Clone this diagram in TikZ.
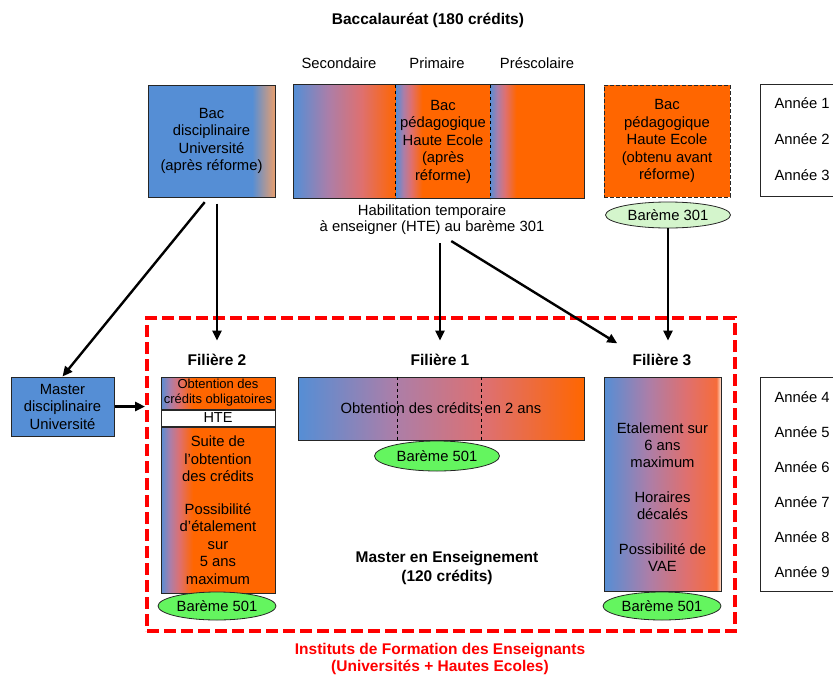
\documentclass[tikz,border=0pt]{standalone}
\usepackage{fontspec}
\setmainfont{Liberation Sans}
\usepackage{tikz}
\usetikzlibrary{arrows.meta,positioning,shapes.geometric}
\definecolor{bleu}{RGB}{85,142,213}
\definecolor{orangevif}{RGB}{255,102,0}
\definecolor{mauve}{RGB}{172,126,168}
\definecolor{rose}{RGB}{222,112,112}
\definecolor{rouille}{RGB}{246,108,58}
\definecolor{peche}{RGB}{232,158,110}
\definecolor{blanchi}{RGB}{255,230,212}
\definecolor{vertpale}{RGB}{212,245,204}
\definecolor{vertvif}{RGB}{100,245,95}
\pgfdeclarehorizontalshading{degrade}{100bp}{color(0bp)=(bleu); color(25bp)=(bleu); color(42bp)=(mauve); color(58bp)=(rose); color(75bp)=(orangevif); color(100bp)=(orangevif)}
\pgfdeclarehorizontalshading{degradecourt}{100bp}{color(0bp)=(bleu); color(25bp)=(bleu); color(29bp)=(mauve); color(33bp)=(rose); color(39bp)=(orangevif); color(100bp)=(orangevif)}
\pgfdeclarehorizontalshading{degradebleu}{100bp}{color(0bp)=(bleu); color(66bp)=(bleu); color(75bp)=(peche); color(100bp)=(peche)}
\pgfdeclarehorizontalshading{degradefin}{100bp}{color(0bp)=(bleu); color(25bp)=(bleu); color(44bp)=(mauve); color(60bp)=(rose); color(73bp)=(rouille); color(75bp)=(blanchi); color(100bp)=(blanchi)}

\begin{document}
\begin{tikzpicture}[x=1pt,y=-1pt,
      every node/.style={font=\fontsize{14.8}{17.5}\selectfont},
      titre/.style={font=\fontsize{15.5}{19}\selectfont\bfseries},
      boite/.style={draw=black!85,line width=1pt,inner sep=0pt,align=center},
      degr/.style={boite,shade,shading=#1},
      bareme/.style={ellipse,draw=black!85,line width=0.8pt,inner sep=0pt,minimum width=118,minimum height=28},
      fleche/.style={-{Triangle[length=10pt,width=9pt]},line width=2.4pt},
      cadre/.style={draw=red,line width=4pt,dash pattern=on 12pt off 5pt,minimum width=588,minimum height=313}
]
\useasboundingbox (0,0) rectangle (833,675);
\node[cadre] (ifr) at (441,474.5) {};

\node[titre] (bacc) at (428,20) {Baccalauréat (180 crédits)};
\node (sec) at (339,63) {Secondaire};
\node (prim) at (437,63) {Primaire};
\node (presc) at (537,63) {Préscolaire};

\node[degr=degradebleu,minimum width=127,minimum height=112] (bacdisc) at (211.5,141) {Bac\\disciplinaire\\Université\\(après réforme)};
\node[degr=degrade,draw=none,minimum width=102,minimum height=113] (seg1) at (345,141.5) {};
\node[degr=degradecourt,draw=none,minimum width=94,minimum height=113] (seg2) at (443,141.5) {Bac\\pédagogique\\Haute Ecole\\(après\\réforme)};
\node[degr=degradecourt,draw=none,minimum width=94,minimum height=113] (seg3) at (537,141.5) {};
\draw[line width=1pt,black!85] (seg1.north west) rectangle (seg3.south east);
\draw[line width=1.2pt,dashed] (seg2.north west) -- (seg2.south west) (seg2.north east) -- (seg2.south east);
\node[align=center,font=\fontsize{14.8}{16}\selectfont] (hte) at (432,220) {Habilitation temporaire\\à enseigner (HTE) au barème 301};

\node[boite,fill=orangevif,dash pattern=on 4pt off 2pt,minimum width=126,minimum height=112] (bacav) at (667,141) {Bac\\pédagogique\\Haute Ecole\\(obtenu avant\\réforme)};
\node[bareme,fill=vertpale,minimum width=125,minimum height=26] (b301) at (668,215) {Barème 301};

\node[boite,minimum width=85,minimum height=112] (an13) at (802.5,140) {};
\foreach \n/\y in {1/103,2/139,3/175}
      \node[anchor=west] (an\n) at (771,\y) {Année \n};
\node[boite,minimum width=85,minimum height=214] (an49) at (802.5,484) {};
\foreach \n/\y in {4/397,5/432,6/467,7/502,8/537,9/572}
      \node[anchor=west] (an\n) at (771,\y) {Année \n};

\node[titre] (fil2) at (217,360) {Filière 2};
\node[titre] (fil1) at (440,360) {Filière 1};
\node[titre] (fil3) at (662,360) {Filière 3};

\node[boite,fill=bleu,minimum width=103,minimum height=59] (master) at (62.5,406.5) {Master\\disciplinaire\\Université};

\node[degr=degradecourt,minimum width=114,minimum height=32,font=\fontsize{13}{15}\selectfont] (f2a) at (218,393) {Obtention des\\crédits obligatoires};
\node[boite,fill=white,minimum width=114,minimum height=16,font=\fontsize{14.5}{14}\selectfont,below=0pt of f2a] (f2b) {HTE};
\node[degr=degradecourt,minimum width=114,minimum height=166,below=0pt of f2b] (f2c) {Suite de\\l’obtention\\des crédits\\[15pt]Possibilité\\d’étalement\\sur\\5 ans\\maximum};
\node[bareme,fill=vertvif] (b501a) at (217,606) {Barème 501};

\node[degr=degrade,minimum width=286,minimum height=63] (f1) at (441,408.5) {Obtention des crédits en 2 ans};
\draw[line width=1pt,dashed] ([xshift=100pt]f1.north west) -- ([xshift=100pt]f1.south west)
      ([xshift=184pt]f1.north west) -- ([xshift=184pt]f1.south west);
\node[bareme,fill=vertvif,minimum width=125,minimum height=30] (b501b) at (437,456) {Barème 501};
\node[titre,align=center] (menseign) at (447,567.5) {Master en Enseignement\\(120 crédits)};

\node[degr=degradefin,minimum width=117,minimum height=214] (f3) at (662.5,484) {};
\node[align=center,font=\fontsize{14.8}{17}\selectfont] (f3txt) at (662.5,497.5) {Etalement sur\\6 ans\\maximum\\[18pt]Horaires\\décalés\\[18pt]Possibilité de\\VAE};
\node[bareme,fill=vertvif] (b501c) at (662,606) {Barème 501};

\node[titre,text=red,align=center,font=\fontsize{15.5}{17}\selectfont\bfseries] (instituts) at (440,658.5) {Instituts de Formation des Enseignants\\(Universités + Hautes Ecoles)};

\draw[fleche,shorten <=6pt,shorten >=10pt] (bacdisc.south -| fil2.north) -- (fil2.north);
\draw[fleche,shorten <=6pt] ([xshift=-3pt]bacdisc.south) -- (master.north);
\draw[fleche] (master.east) -- (master.east -| ifr.west);
\draw[fleche,shorten <=5pt,shorten >=10pt] (hte.south -| fil1.north) -- (fil1.north);
\draw[fleche,shorten <=5pt,shorten >=14pt] ([xshift=15pt]hte.south) -- (fil3.north west);
\draw[fleche,shorten >=10pt] (b301.south) -- (b301.south |- fil3.north);
\end{tikzpicture}
\end{document}
